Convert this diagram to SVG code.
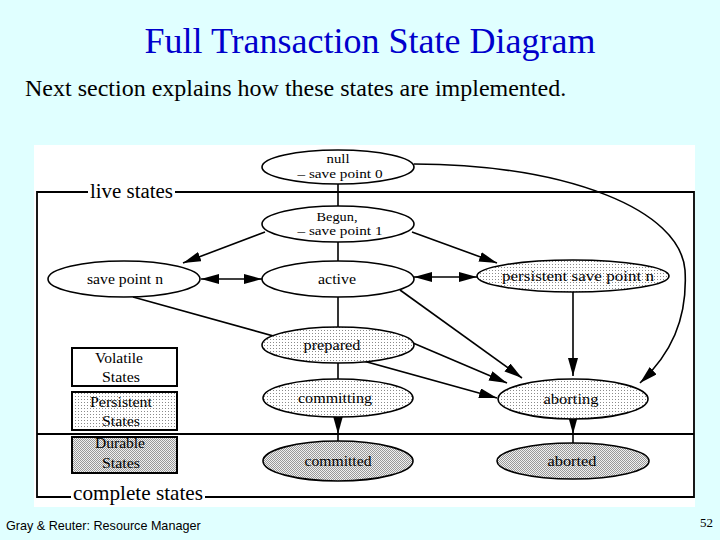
<svg xmlns="http://www.w3.org/2000/svg" width="720" height="540" viewBox="0 0 720 540">
<defs>
<style>
.t{font-family:"Liberation Serif","Times New Roman",serif;fill:#000}
.n{font-size:15px;text-anchor:middle}
.s{font-size:13px;text-anchor:middle}
.e{stroke:#000;stroke-width:1.6}
.v{fill:#fff}
.p{fill:url(#dots)}
.d{fill:url(#dense)}
.c{fill:none;stroke:#000;stroke-width:1.6}
.a{marker-end:url(#ah)}
.b{marker-start:url(#ah);marker-end:url(#ah)}
.f{fill:none;stroke:#000;stroke-width:1.8}
</style>
<pattern id="dots" width="3" height="3" patternUnits="userSpaceOnUse">
<rect width="3" height="3" fill="#fff"/><rect width="1" height="1" fill="#8a8a8a"/>
</pattern>
<pattern id="dense" width="2" height="2" patternUnits="userSpaceOnUse">
<rect width="2" height="2" fill="#f0f0f0"/><rect width="1" height="1" fill="#999999"/><rect x="1" y="1" width="1" height="1" fill="#999999"/>
</pattern>
<marker id="ah" viewBox="0 0 18 10" refX="18" refY="5" markerWidth="18" markerHeight="10" markerUnits="userSpaceOnUse" orient="auto-start-reverse">
<path d="M0,0 L18,5 L0,10 z" fill="#000"/>
</marker>
</defs>
<rect width="720" height="540" fill="#E0FFFF"/>
<text x="370" y="53" class="t" font-size="36" style="fill:#0000CC" text-anchor="middle">Full Transaction State Diagram</text>
<text x="25" y="96" class="t" font-size="24">Next section explains how these states are implemented.</text>
<text x="6" y="530" font-family="Liberation Sans, Arial, sans-serif" font-size="12.6" fill="#000">Gray &amp; Reuter: Resource Manager</text>
<text x="713" y="527" class="t" font-size="13" text-anchor="end">52</text>

<rect x="34" y="145" width="661" height="362" fill="#fff"/>

<g id="frames">
<path class="f" d="M88,192 H37 V497 H71 M205,497 H694 V192 H175"/>
<path class="f" d="M37,434 H694"/>
<text x="90" y="198" class="t" font-size="20.5" textLength="83" lengthAdjust="spacingAndGlyphs">live states</text>
<text x="73" y="500" class="t" font-size="21" textLength="130" lengthAdjust="spacingAndGlyphs">complete states</text>
</g>

<g id="connectors">
<path class="c" d="M338,184 V206"/>
<path class="c" d="M338,242 V261"/>
<path class="c" d="M338,297 V327"/>
<path class="c" d="M338,363 V379"/>
<path class="c a" d="M265,232 L183,263"/>
<path class="c a" d="M412,232 L497,263"/>
<path class="c b" d="M201,279 L262,279"/>
<path class="c b" d="M414,277 L477,277"/>
<path class="c a" d="M133,297 L497,398"/>
<path class="c a" d="M400,290 L522,378"/>
<path class="c a" d="M413,343 L507,383"/>
<path class="c a" d="M573,292 L573,376"/>
<path class="c a" d="M414,164 C570,165 680,210 685,270 C688,320 670,355 640,383"/>
<path class="c a" d="M338,417 L338,434"/>
<path class="c" d="M338,434 L338,441"/>
<path class="c a" d="M573,419 L573,434"/>
<path class="c" d="M573,434 L573,443"/>
</g>

<g id="null">
<ellipse class="e v" cx="338" cy="167" rx="76" ry="17"/>
<text x="338" y="163" class="t s" textLength="23" lengthAdjust="spacingAndGlyphs">null</text>
<text x="340" y="178" class="t s" textLength="85" lengthAdjust="spacingAndGlyphs">– save point 0</text>
</g>
<g id="begun">
<ellipse class="e v" cx="338" cy="224" rx="76" ry="18"/>
<text x="337" y="221" class="t s" textLength="41" lengthAdjust="spacingAndGlyphs">Begun,</text>
<text x="340" y="235" class="t s" textLength="85" lengthAdjust="spacingAndGlyphs">– save point 1</text>
</g>
<g id="savepointn">
<ellipse class="e v" cx="124" cy="279" rx="76" ry="18"/>
<text x="125" y="284" class="t n" textLength="76" lengthAdjust="spacingAndGlyphs">save point n</text>
</g>
<g id="active">
<ellipse class="e v" cx="338" cy="279" rx="76" ry="18"/>
<text x="337" y="284" class="t n" textLength="38" lengthAdjust="spacingAndGlyphs">active</text>
</g>
<g id="persistentsavepointn">
<ellipse class="e p" cx="573" cy="276" rx="96" ry="16"/>
<text x="578" y="281" class="t n" textLength="152" lengthAdjust="spacingAndGlyphs">persistent save point n</text>
</g>
<g id="prepared">
<ellipse class="e p" cx="338" cy="345" rx="76" ry="18"/>
<text x="332" y="350" class="t n" textLength="57" lengthAdjust="spacingAndGlyphs">prepared</text>
</g>
<g id="committing">
<ellipse class="e p" cx="338" cy="398" rx="75" ry="19"/>
<text x="335" y="403" class="t n" textLength="74" lengthAdjust="spacingAndGlyphs">committing</text>
</g>
<g id="aborting">
<ellipse class="e p" cx="573" cy="399" rx="75" ry="20"/>
<text x="571" y="404" class="t n" textLength="55" lengthAdjust="spacingAndGlyphs">aborting</text>
</g>
<g id="committed">
<ellipse class="e d" cx="338" cy="461" rx="75" ry="20"/>
<text x="338" y="466" class="t n" textLength="67" lengthAdjust="spacingAndGlyphs">committed</text>
</g>
<g id="aborted">
<ellipse class="e d" cx="573" cy="461" rx="76" ry="18"/>
<text x="572" y="466" class="t n" textLength="49" lengthAdjust="spacingAndGlyphs">aborted</text>
</g>

<g id="legend-volatile">
<rect x="72" y="348" width="105" height="38" fill="#fff" stroke="#000" stroke-width="2"/>
<text x="119" y="363" class="t n" textLength="48" lengthAdjust="spacingAndGlyphs">Volatile</text>
<text x="121" y="382" class="t n" textLength="38" lengthAdjust="spacingAndGlyphs">States</text>
</g>
<g id="legend-persistent">
<rect x="72" y="392" width="105" height="38" fill="url(#dots)" stroke="#000" stroke-width="2"/>
<text x="121" y="407" class="t n" textLength="62" lengthAdjust="spacingAndGlyphs">Persistent</text>
<text x="121" y="426" class="t n" textLength="38" lengthAdjust="spacingAndGlyphs">States</text>
</g>
<g id="legend-durable">
<rect x="72" y="437" width="105" height="36" fill="url(#dense)" stroke="#000" stroke-width="2"/>
<text x="120" y="448" class="t n" textLength="50" lengthAdjust="spacingAndGlyphs">Durable</text>
<text x="121" y="468" class="t n" textLength="38" lengthAdjust="spacingAndGlyphs">States</text>
</g>
</svg>
